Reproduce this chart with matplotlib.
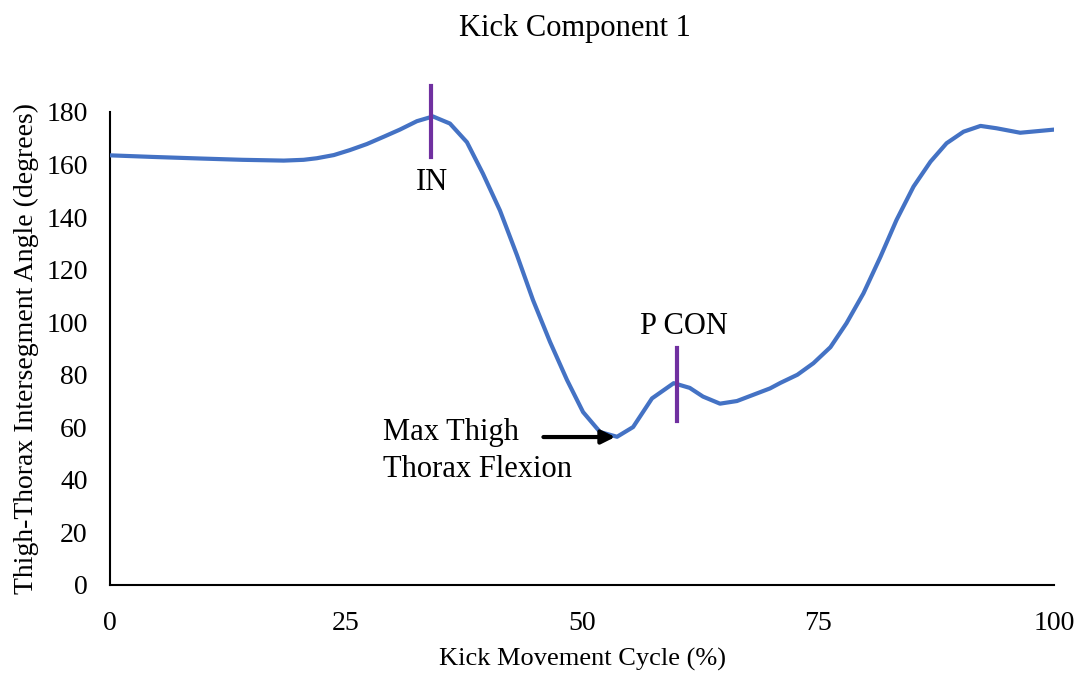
import numpy as np
import matplotlib.pyplot as plt

# -----------------------------
# Data
# -----------------------------
cycle = [0, 4.5, 9.5, 14, 18.4, 20.5, 21.9, 23.7, 25.4, 27.2, 29, 30.7, 32.5, 34.2,
         36.0, 37.8, 39.5, 41.3, 43.1, 44.8, 46.6, 48.4, 50.1, 51.9, 53.7, 55.4,
         57.4, 59.7, 61.4, 62.8, 64.6, 66.4, 69.9, 71.0, 72.8, 74.5, 76.3, 78.0,
         79.8, 81.6, 83.3, 85.1, 86.9, 88.6, 90.4, 92.2, 93.9, 96.4, 98.5, 100]
angle = [163.5, 162.9, 162.3, 161.8, 161.5, 161.8, 162.4, 163.6, 165.5, 167.8,
         170.6, 173.3, 176.5, 178.3, 175.6, 168.5, 156.5, 142.5, 125.5, 108.4,
         92.5, 78.0, 65.8, 58.2, 56.4, 60.1, 71.0, 76.8, 75.0, 71.7, 69.0, 70.0,
         74.8, 76.9, 80.0, 84.4, 90.5, 99.6, 111.0, 124.9, 138.9, 151.6, 161.1,
         168.1, 172.5, 174.7, 173.8, 172.1, 172.8, 173.3]

events = ["IN", "P CON"]
event_x = [34, 60]
event_lo = [163, 62.5]
event_hi = [190, 90]

plt.rcParams['font.family'] = ['Liberation Serif', 'DejaVu Serif']

fig = plt.figure(figsize=(10.79, 6.73), dpi=100)
ax = fig.add_axes([0.102, 0.1308, 0.875, 0.7028])

ax.plot(cycle, angle, color='#4472C4', linewidth=3, solid_capstyle='round',
        solid_joinstyle='round', zorder=3)

for name, x, lo, hi in zip(events, event_x, event_lo, event_hi):
    ax.plot([x, x], [lo, hi], color='#7030A0', linewidth=3, clip_on=False, zorder=4)

ax.text(34.1, 153, "IN", ha='center', va='center', fontsize=22)
ax.text(60.8, 98.5, "P CON", ha='center', va='center', fontsize=22)
ax.text(28.9, 51.0, "Max Thigh\nThorax Flexion", ha='left', va='center',
        fontsize=22, linespacing=1.35)
ax.annotate("", xy=(53.5, 56.3), xytext=(45.9, 56.3),
            arrowprops=dict(arrowstyle='-|>', color='black', lw=3,
                            mutation_scale=20, shrinkA=0, shrinkB=0))

ax.set_xlim(0, 100)
ax.set_ylim(0, 180)
ax.set_xticks([0, 25, 50, 75, 100])
ax.set_yticks(range(0, 181, 20))
ax.tick_params(length=0, labelsize=20)
ax.tick_params(axis='x', pad=19)
ax.tick_params(axis='y', pad=16)

for s in ['top', 'right']:
    ax.spines[s].set_visible(False)
for s in ['left', 'bottom']:
    ax.spines[s].set_linewidth(1.5)

ax.set_xlabel("Kick Movement Cycle (%)", fontsize=19, labelpad=8)
ax.set_ylabel("Thigh-Thorax Intersegment Angle (degrees)", fontsize=20, labelpad=5)
fig.text(0.533, 0.958, "Kick Component 1", ha='center', va='center', fontsize=22)

plt.savefig("out.png", dpi=100)
plt.close()
